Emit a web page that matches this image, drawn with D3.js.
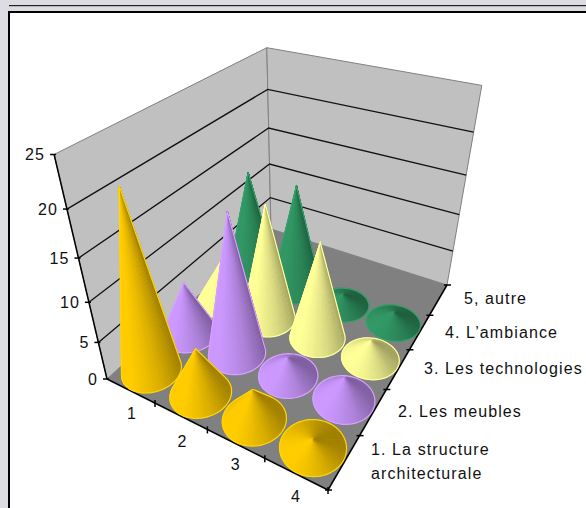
<!DOCTYPE html>
<html><head><meta charset="utf-8">
<script src="https://cdn.jsdelivr.net/npm/d3@7/dist/d3.min.js"></script>
<style>html,body{margin:0;padding:0;background:#fff}svg{display:block}text{font-family:"Liberation Sans",Arial,sans-serif;font-size:16px;letter-spacing:1.1px;fill:#111}</style>
</head><body><svg id="c" width="586" height="508"></svg>
<script>
const categories=["1","2","3","4"];
const seriesNames=["1. La structure architecturale","2. Les meubles","3. Les technologies","4. L’ambiance","5, autre"];
const valueTicks=[0,5,10,15,20,25];
const structure=[21.5,6,4,1];
const meubles=[7,17.5,2.5,3];
const technologies=[5.5,15,12.5,2.5];
const ambiance=[14,14,1.5,1.5];
const autre=[null,null,null,null];
const seriesValues=[structure,meubles,technologies,ambiance,autre];
const seriesColors=["#FFCC00","#CC99FF","#FFFF99","#339966","#3366FF"];
const svg=d3.select("#c");
// projection anchors
const F={a:[107,379],b:[328,490],c:[447,285],d:[271,229]};
const T={a:[55,155],c:[482,87],d:[266,46]};
function solve(A,b){const n=b.length,M=A.map((r,i)=>[...r,b[i]]);for(let i=0;i<n;i++){let p=i;for(let k=i+1;k<n;k++)if(Math.abs(M[k][i])>Math.abs(M[p][i]))p=k;[M[i],M[p]]=[M[p],M[i]];for(let k=0;k<n;k++)if(k!==i){const f=M[k][i]/M[i][i];for(let j=i;j<=n;j++)M[k][j]-=f*M[i][j];}}return M.map((r,i)=>r[n]/r[i]);}
const pts=[[0,0,F.a],[1,0,F.b],[1,1,F.c],[0,1,F.d]],A8=[],b8=[];
pts.forEach(([u,v,[x,y]])=>{A8.push([u,v,1,0,0,0,-u*x,-v*x]);b8.push(x);A8.push([0,0,0,u,v,1,-u*y,-v*y]);b8.push(y);});
const h=solve(A8,b8);
const hom=(u,v)=>[h[0]*u+h[1]*v+h[2],h[3]*u+h[4]*v+h[5],h[6]*u+h[7]*v+1];
// vertical column fit
const tp=[[0,0,T.a],[1,1,T.c],[0,1,T.d]],R=[],S=[];
tp.forEach(([u,v,[x,y]])=>{const [X,Y,W]=hom(u,v);R.push([1,0,-x]);S.push(x*W-X);R.push([0,1,-y]);S.push(y*W-Y);});
const RtR=[0,1,2].map(i=>[0,1,2].map(j=>d3.sum(R,r=>r[i]*r[j])));
const RtS=[0,1,2].map(i=>d3.sum(R,(r,k)=>r[i]*S[k]));
const [ca,cb,cc]=solve(RtR,RtS);
const zS=d3.scaleLinear().domain([0,25]).range([0,1]);
const uS=d3.scaleBand().domain(categories).range([0,1]);
const vS=d3.scaleBand().domain(seriesNames).range([0,1]);
function P(u,v,val){const [X,Y,W]=hom(u,v),z=zS(val);const w=W+cc*z;return [(X+ca*z)/w,(Y+cb*z)/w];}
const poly=a=>a.map(p=>p.map(n=>n.toFixed(1)).join(",")).join(" ");
const g=svg.append("g");
// frame
g.append("rect").attr("x",0).attr("y",0).attr("width",586).attr("height",508).attr("fill","#fff");
g.append("rect").attr("x",0).attr("y",0).attr("width",586).attr("height",12).attr("fill","#DCDCE2");
g.append("rect").attr("x",0).attr("y",0).attr("width",9).attr("height",508).attr("fill","#DCDCE2");
g.append("rect").attr("x",9).attr("y",5).attr("width",577).attr("height",1.2).attr("fill","#222");
g.append("rect").attr("x",9).attr("y",11).attr("width",577).attr("height",2).attr("fill","#000");
g.append("rect").attr("x",8).attr("y",11).attr("width",2).attr("height",497).attr("fill","#000");
// walls + floor
g.append("polygon").attr("points",poly([P(0,0,0),P(0,1,0),P(0,1,25),P(0,0,25)])).attr("fill","#C0C0C0").attr("stroke","#808080");
g.append("polygon").attr("points",poly([P(0,1,0),P(1,1,0),P(1,1,25),P(0,1,25)])).attr("fill","#C0C0C0").attr("stroke","#808080");
g.append("polygon").attr("points",poly([P(0,0,0),P(1,0,0),P(1,1,0),P(0,1,0)])).attr("fill","#808080");
valueTicks.filter(t=>t>0&&t<25).forEach(t=>{
  g.append("polyline").attr("points",poly([P(0,0,t),P(0,1,t),P(1,1,t)])).attr("fill","none").attr("stroke","#111").attr("stroke-width",1.3);
});
// axes
const axis=g.append("g").attr("stroke","#000").attr("stroke-width",1.5).attr("fill","none");
axis.append("line").attr("x1",P(0,0,0)[0]).attr("y1",P(0,0,0)[1]).attr("x2",P(0,0,25)[0]).attr("y2",P(0,0,25)[1]);
axis.append("line").attr("x1",P(0,0,0)[0]).attr("y1",P(0,0,0)[1]).attr("x2",P(1,0,0)[0]).attr("y2",P(1,0,0)[1]);
axis.append("line").attr("x1",P(1,0,0)[0]).attr("y1",P(1,0,0)[1]).attr("x2",P(1,1,0)[0]).attr("y2",P(1,1,0)[1]);
valueTicks.forEach(t=>{const [x,y]=P(0,0,t);
  axis.append("line").attr("x1",x-4).attr("y1",y).attr("x2",x+2).attr("y2",y);
  g.append("text").attr("x",x-9).attr("y",y+6).attr("text-anchor","end").text(t);
});
const catOff=[[-23,16],[-25,18],[-29,12],[-32,12]];
d3.range(1,5).forEach(i=>{const [x,y]=P(i/4,0,0);
  axis.append("line").attr("x1",x).attr("y1",y-3).attr("x2",x).attr("y2",y+4);
  g.append("text").attr("x",x+catOff[i-1][0]).attr("y",y+catOff[i-1][1]).attr("text-anchor","middle").text(categories[i-1]);
});
d3.range(0,6).forEach(j=>{const [x,y]=P(1,j/5,0);
  axis.append("line").attr("x1",x-3).attr("y1",y).attr("x2",x+4).attr("y2",y);
});
const labelPos=[[371,455],[398,417],[424,374],[445,338],[464,304]];
seriesNames.forEach((s,j)=>{
  const [x,y]=labelPos[j];
  if(j===0){const t=g.append("text").attr("x",x).attr("y",y);
    t.append("tspan").attr("x",x).text("1. La structure");
    t.append("tspan").attr("x",x).attr("dy",24).text("architecturale");
  } else g.append("text").attr("x",x).attr("y",y).text(s);
});
// cones: back to front, left to right
const radius=0.48;
const shade=d3.scaleLinear().domain([-1,0,1]).range([1,0.84,0.62]);
const marks=g.append("g");
for(let j=seriesValues.length-1;j>=0;j--){
  for(let i=0;i<categories.length;i++){
    const val=seriesValues[j][i]; if(val==null) continue;
    const cu=uS(categories[i])+uS.bandwidth()/2, cv=vS(seriesNames[j])+vS.bandwidth()/2;
    const ru=uS.bandwidth()*radius, rv=vS.bandwidth()*radius;
    const N=72, ring=d3.range(N).map(k=>{const a=k/N*2*Math.PI;return P(cu+ru*Math.cos(a),cv+rv*Math.sin(a),0);});
    const apex=P(cu,cv,val), col=d3.color(seriesColors[j]);
    const xr=d3.extent(ring,p=>p[0]), yr=d3.extent(ring,p=>p[1]);
    const cx=(xr[0]+xr[1])/2, cy=(yr[0]+yr[1])/2, hw=(xr[1]-xr[0])/2, hh=(yr[1]-yr[0])/2;
    const cone=marks.append("g");
    const hull=d3.polygonHull([...ring,apex]);
    cone.append("polygon").attr("points",poly(hull)).attr("fill",col);
    const orient=-Math.sign(d3.polygonArea(ring));
    ring.forEach((p,k)=>{const q=ring[(k+1)%N];
      const cross=(p[0]-apex[0])*(q[1]-apex[1])-(p[1]-apex[1])*(q[0]-apex[0]);
      if(cross*orient<=0) return;
      const dx=((p[0]+q[0])/2-cx)/hw, dy=((p[1]+q[1])/2-cy)/hh;
      const f=Math.max(-1,Math.min(1,0.95*dx-0.45*dy));
      const s=shade(f);
      const c=d3.rgb(col.r*s,col.g*s,col.b*s);
      cone.append("polygon").attr("points",poly([apex,p,q])).attr("fill",c).attr("stroke",c).attr("stroke-width",0.5);
    });
    cone.append("polygon").attr("points",poly(hull)).attr("fill","none").attr("stroke",col.brighter(0.15)).attr("stroke-width",1.2);
  }
}
</script></body></html>
